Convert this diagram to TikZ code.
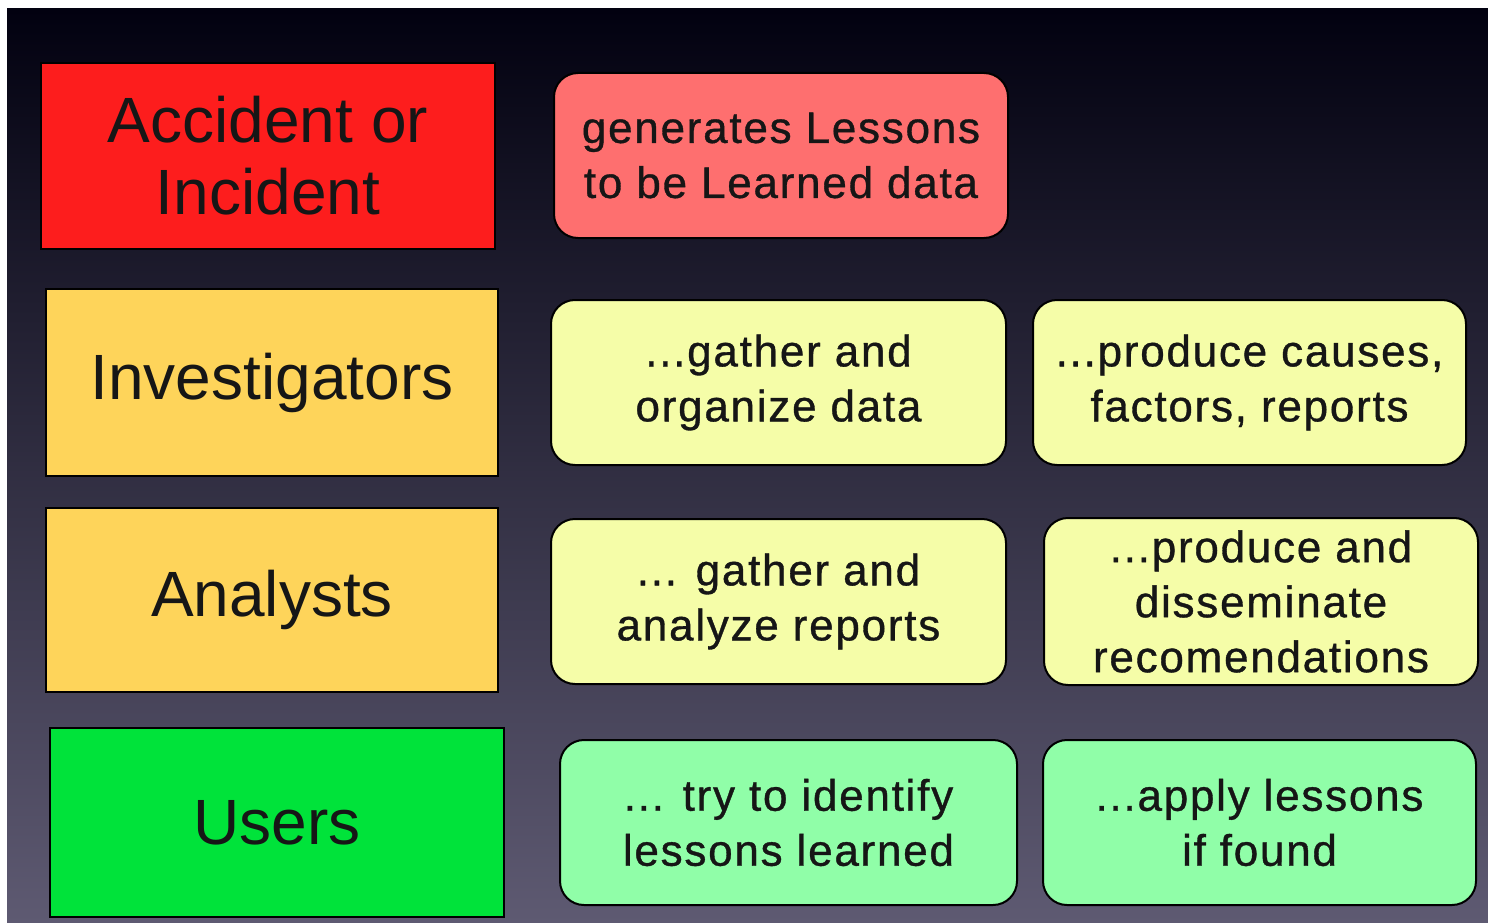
\documentclass[tikz,border=0pt]{standalone}
\usepackage{fontspec}
\setmainfont{Liberation Sans}
\newfontfamily\boxfont[LetterSpace=4,FakeBold=0.8]{Liberation Sans}
\definecolor{bgTop}{HTML}{020110}
\definecolor{bgMid}{HTML}{2C2843}
\definecolor{bgBot}{HTML}{5E5A72}
\definecolor{cRed}{HTML}{FD1D1D}
\definecolor{cSalmon}{HTML}{FE6F6F}
\definecolor{cOrange}{HTML}{FED45A}
\definecolor{cLYellow}{HTML}{F5FDA8}
\definecolor{cGreen}{HTML}{00E33A}
\definecolor{cLGreen}{HTML}{90FEA8}
\definecolor{cText}{HTML}{161616}
\begin{document}
\begin{tikzpicture}[x=1pt,y=-1pt,
  lab/.style={draw=black, line width=2pt, align=center, text=cText, inner sep=0pt,
    font=\fontsize{64}{72}\selectfont},
  rbox/.style={draw=black, line width=2pt, rounded corners=24pt, align=center, text=cText,
    inner sep=0pt, font=\boxfont\fontsize{44}{55}\selectfont}]
\useasboundingbox (0,0) rectangle (1488,923);
\fill[white] (0,0) rectangle (1488,923);
\shade[top color=bgTop, middle color=bgMid, bottom color=bgBot] (7,9) rectangle (1488,923);

% left labels
\node[lab, fill=cRed, minimum width=454pt, minimum height=186pt] (acc) at (268,156) {Accident or\\Incident};
\node[lab, fill=cOrange, minimum width=452pt, minimum height=187pt] (inv) at (272,382.5) {Investigators};
\node[lab, fill=cOrange, minimum width=452pt, minimum height=184pt] (ana) at (272,600) {Analysts};
\node[lab, fill=cGreen, minimum width=454pt, minimum height=189pt] (usr) at (277,822.5) {Users};

% rounded boxes
\node[rbox, fill=cSalmon, minimum width=454pt, minimum height=165pt] (gen) at (781,155.5) {generates Lessons\\to be Learned data};
\node[rbox, fill=cLYellow, minimum width=455pt, minimum height=165pt] (gor) at (778.5,382.5) {...gather and\\organize data};
\node[rbox, fill=cLYellow, minimum width=433pt, minimum height=165pt] (pca) at (1249.5,382.5) {...produce causes,\\factors, reports};
\node[rbox, fill=cLYellow, minimum width=455pt, minimum height=165pt] (gan) at (778.5,601.5) {... gather and\\analyze reports};
\node[rbox, fill=cLYellow, minimum width=434pt, minimum height=167pt] (pdi) at (1261,601.5) {...produce and\\disseminate\\recomendations};
\node[rbox, fill=cLGreen, minimum width=457pt, minimum height=165pt] (try) at (788.5,822.5) {... try to identify\\lessons learned};
\node[rbox, fill=cLGreen, minimum width=433pt, minimum height=165pt] (app) at (1259.5,822.5) {...apply lessons\\if found};
\end{tikzpicture}
\end{document}
